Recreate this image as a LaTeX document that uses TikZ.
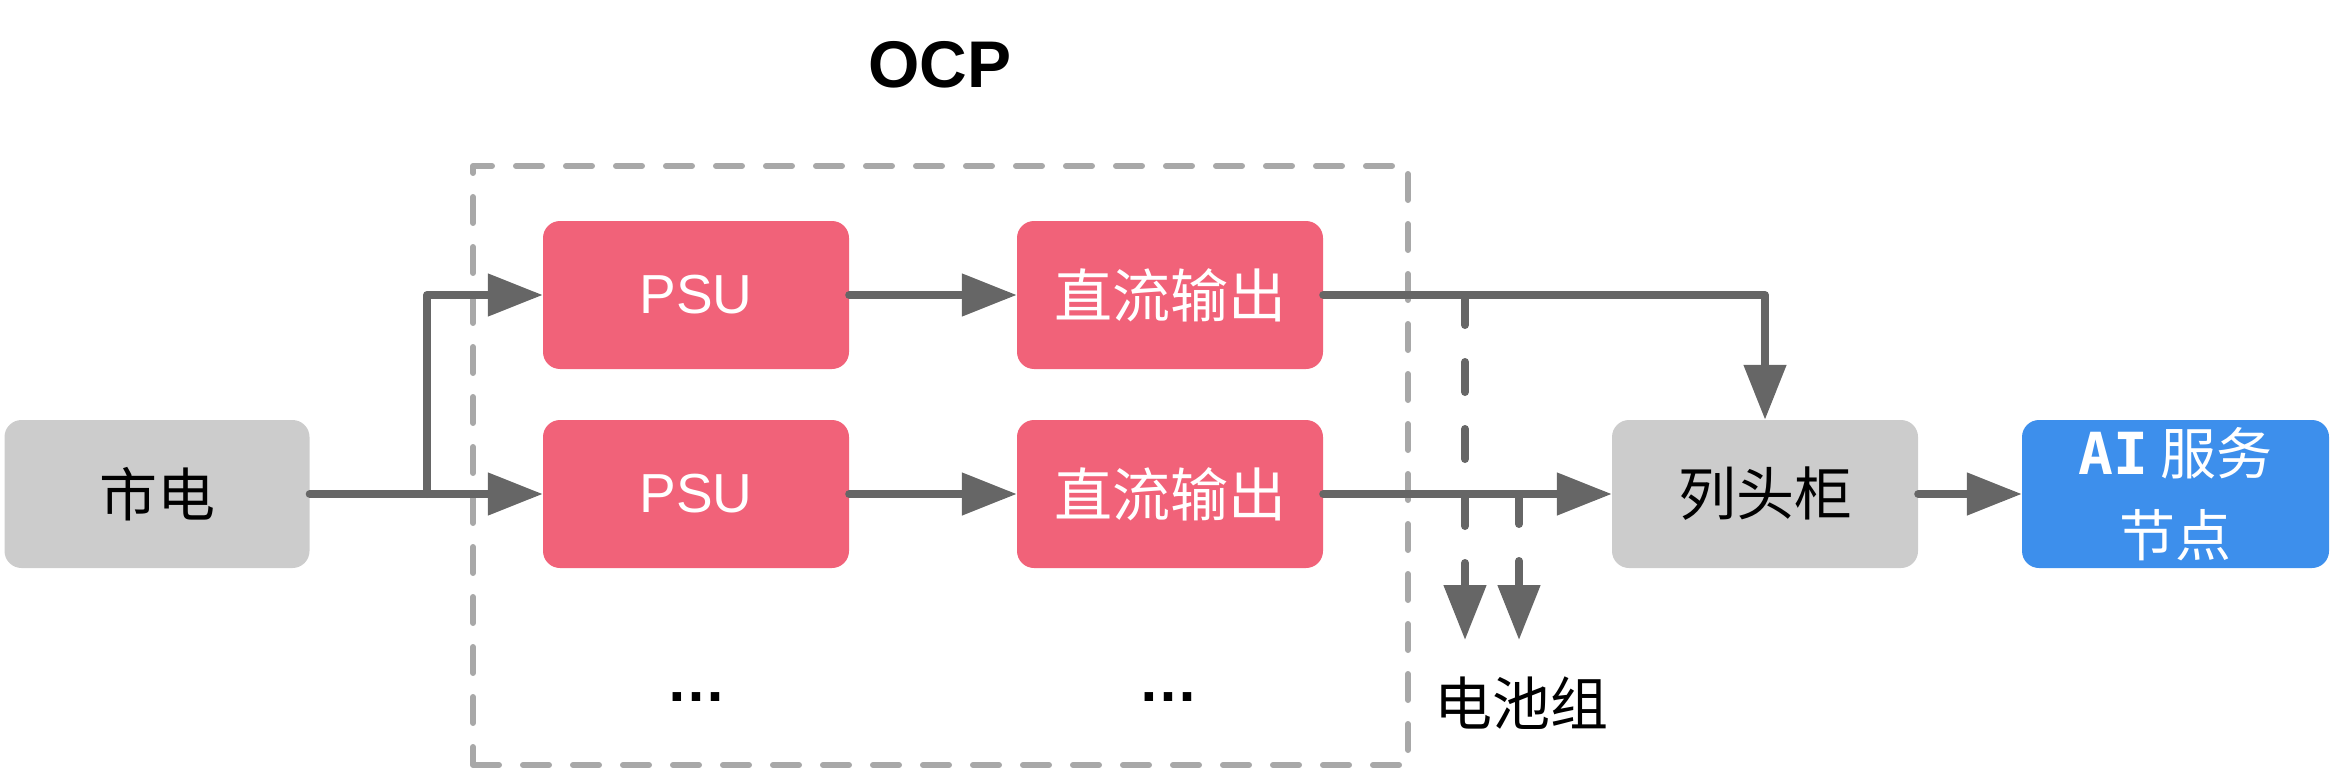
\documentclass[tikz,border=0pt]{standalone}
\usepackage{fontspec}
\setmainfont{Liberation Sans}
\newfontfamily\cjk{Noto Sans CJK SC}
\newfontfamily\monolatin{DejaVu Sans Mono}
\usetikzlibrary{arrows.meta}
\definecolor{boxgray}{HTML}{CCCCCC}
\definecolor{psured}{HTML}{F16279}
\definecolor{aiblue}{HTML}{3D8FEC}
\definecolor{linegray}{HTML}{666666}
\definecolor{dashgray}{HTML}{A8A8A8}
\begin{document}
\begin{tikzpicture}[x=1pt,y=-1pt,
  box/.style={rounded corners=17pt, minimum width=306pt, minimum height=148pt, inner sep=0pt, anchor=center},
  graybox/.style={box, fill=boxgray, text=black},
  redbox/.style={box, fill=psured, text=white},
  bluebox/.style={box, fill=aiblue, text=white},
  cjkfont/.style={font=\cjk\fontsize{58}{70}\selectfont},
  latinfont/.style={font=\fontsize{55}{66}\selectfont},
  conn/.style={draw=linegray, line width=8pt, line cap=round, line join=round, -{Triangle[length=55pt,width=41pt]}},
  battline/.style={conn, dash pattern=on 30pt off 37pt},
  ocpframe/.style={draw=dashgray, line width=6pt, line cap=round, line join=round, dash pattern=on 26pt off 24pt, minimum width=935pt, minimum height=599pt, inner sep=0pt}
]
\useasboundingbox (0,0) rectangle (2333,770);

% OCP frame and title
\node[ocpframe] (ocp) at (940.5,465.5) {};
\node[font=\bfseries\fontsize{66}{78}\selectfont] (ocptitle) at (940,65) {OCP};

% boxes
\node[graybox, cjkfont, minimum width=305pt] (grid) at (157,494) {市电};
\node[redbox, latinfont] (psu1) at (696,295) {PSU};
\node[redbox, latinfont] (psu2) at (696,494) {PSU};
\node[redbox, cjkfont] (dc1) at (1170,295) {直流输出};
\node[redbox, cjkfont] (dc2) at (1170,494) {直流输出};
\node[graybox, cjkfont] (rack) at (1765,494) {列头柜};
\node[bluebox, font=\cjk\fontsize{56}{82}\selectfont, align=center, minimum width=307pt] (ai) at (2175.5,494) {{\monolatin\bfseries\fontsize{58}{82}\selectfont AI} 服务\\节点};

% ellipses and battery label
\node[font=\bfseries\fontsize{60}{70}\selectfont, anchor=base] (dots1) at (696,701) {…};
\node[font=\bfseries\fontsize{60}{70}\selectfont, anchor=base] (dots2) at (1168,701) {…};
\node[cjkfont] (batt) at (1521,703) {电池组};

% connectors
\coordinate (split) at (427,494);
\draw[conn] (grid.east) -- (psu2.west);
\draw[conn] (split) |- (psu1.west);
\draw[conn] (psu1.east) -- (dc1.west);
\draw[conn] (psu2.east) -- (dc2.west);
\draw[conn] (dc1.east) -| (rack.north);
\draw[conn] (dc2.east) -- (rack.west);
\draw[conn] (rack.east) -- (ai.west);

% battery taps
\coordinate (tap1) at (1465,295);
\coordinate (tap1end) at (1465,640);
\coordinate (tap2) at (1519,494);
\coordinate (tap2end) at (1519,640);
\draw[battline] (tap1) -- (tap1end);
\draw[battline] (tap2) -- (tap2end);
\end{tikzpicture}
\end{document}
